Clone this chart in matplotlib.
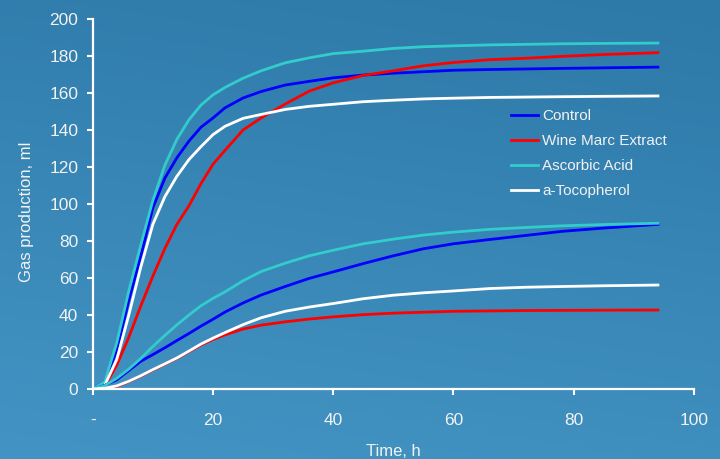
import numpy as np
import matplotlib
matplotlib.use("Agg")
import matplotlib.pyplot as plt
from matplotlib.colors import LinearSegmentedColormap

plt.rcParams['font.family'] = ['Liberation Sans', 'DejaVu Sans']

# time, h
t = [0, 2, 4, 6, 8, 10, 12, 14, 16, 18, 20, 22, 25, 28, 32, 36, 40, 45, 50, 55, 60, 66, 72, 78, 85, 94]

# upper set of curves
control_hi = [0, 4, 21, 48, 72, 98, 114, 125, 134, 141.5, 146.5, 152, 157.3, 160.8, 164.3, 166.3, 168.2, 169.7, 170.7, 171.5, 172.3, 172.7, 173, 173.3, 173.6, 174]
wine_hi = [0, 1.5, 13, 28, 45, 61, 76, 89, 99, 111, 121.5, 129, 140, 146.5, 154, 161, 165.5, 169.5, 172, 174.7, 176.5, 178, 178.8, 179.8, 180.8, 181.8]
ascorbic_hi = [0, 4, 25, 53, 78, 102, 121, 135, 145.5, 153.5, 159, 163, 168, 172, 176.3, 179, 181.3, 182.6, 184.1, 185, 185.5, 186, 186.3, 186.6, 186.8, 187]
toco_hi = [0, 2, 16, 40, 66, 89, 104, 115, 124, 131, 137.5, 142, 146.3, 148.4, 151.1, 152.8, 153.9, 155.3, 156.1, 156.8, 157.2, 157.6, 157.8, 158, 158.2, 158.4]

# lower set of curves
control_lo = [0, 2, 5, 10, 15, 18.6, 22.3, 26.2, 30, 34, 37.7, 41.6, 46.5, 50.8, 55.4, 59.8, 63.3, 67.8, 72, 75.8, 78.5, 80.8, 83, 85.2, 87, 89]
wine_lo = [0, 0.2, 1.4, 4, 7, 10.3, 13.4, 16.6, 20.2, 23.8, 26.8, 29.3, 32.4, 34.5, 36.3, 37.8, 39, 40.2, 41, 41.5, 42, 42.2, 42.4, 42.5, 42.6, 42.7]
ascorbic_lo = [0, 1.8, 5.8, 10.8, 16.5, 23, 29, 34.7, 40, 45, 49, 52.5, 58.5, 63.5, 68, 72, 75, 78.5, 81, 83.2, 84.8, 86.3, 87.3, 88.2, 88.9, 89.6]
toco_lo = [0, 0.4, 1.7, 4.2, 7.2, 10.5, 13.6, 16.8, 20.5, 24.3, 27.5, 30.5, 34.8, 38.5, 42, 44.3, 46.2, 48.8, 50.7, 52, 53, 54.3, 55, 55.4, 55.8, 56.2]

names = ["Control", "Wine Marc Extract", "Ascorbic Acid", "a-Tocopherol"]
colors = ["#0000ff", "#ff0000", "#33cccc", "#ffffff"]
upper = [control_hi, wine_hi, ascorbic_hi, toco_hi]
lower = [control_lo, wine_lo, ascorbic_lo, toco_lo]

xticks = [0, 20, 40, 60, 80, 100]
xticklabels = ["-", "20", "40", "60", "80", "100"]
yticks = list(range(0, 201, 20))

txt = "#f2f2f2"

fig = plt.figure(figsize=(7.2, 4.59), dpi=100)

# gradient background
bg = fig.add_axes([0, 0, 1, 1])
yy, xx = np.mgrid[0:1:200j, 0:1:200j]
grad = 0.8 * yy + 0.2 * (1 - xx)
cmap = LinearSegmentedColormap.from_list("bg", ["#2d79a8", "#4394c4"])
bg.imshow(grad, cmap=cmap, aspect="auto", extent=[0, 1, 0, 1], origin="upper")
bg.set_axis_off()

ax = fig.add_axes([0.1288, 0.1525, 0.8351, 0.8061])
ax.set_facecolor("none")

for y, c, n in zip(upper, colors, names):
    ax.plot(t, y, color=c, lw=2, label=n)
for y, c in zip(lower, colors):
    ax.plot(t, y, color=c, lw=2)

ax.set_xlim(0, 100)
ax.set_ylim(0, 200)
ax.set_xticks(xticks)
ax.set_xticklabels(xticklabels)
ax.set_yticks(yticks)

for s in ["top", "right"]:
    ax.spines[s].set_visible(False)
for s in ["left", "bottom"]:
    ax.spines[s].set_color("white")
    ax.spines[s].set_linewidth(1.6)

ax.tick_params(axis="both", colors="white", width=1.5, length=4.5, labelsize=12.5, labelcolor=txt)
ax.tick_params(axis="x", pad=12.5)
ax.tick_params(axis="y", pad=6)

ax.set_xlabel("Time, h", fontsize=12, color=txt)
ax.set_ylabel("Gas production, ml", fontsize=12, color=txt)
ax.xaxis.set_label_coords(0.5, -0.148)
ax.yaxis.set_label_coords(-0.098, 0.48)

leg = ax.legend(loc="upper left", bbox_to_anchor=(0.6957, 0.757), frameon=False,
                fontsize=11, handlelength=1.75, handletextpad=0.3, labelspacing=0.72,
                borderpad=0, borderaxespad=0)
for text in leg.get_texts():
    text.set_color(txt)

fig.savefig("out.png", dpi=100)
